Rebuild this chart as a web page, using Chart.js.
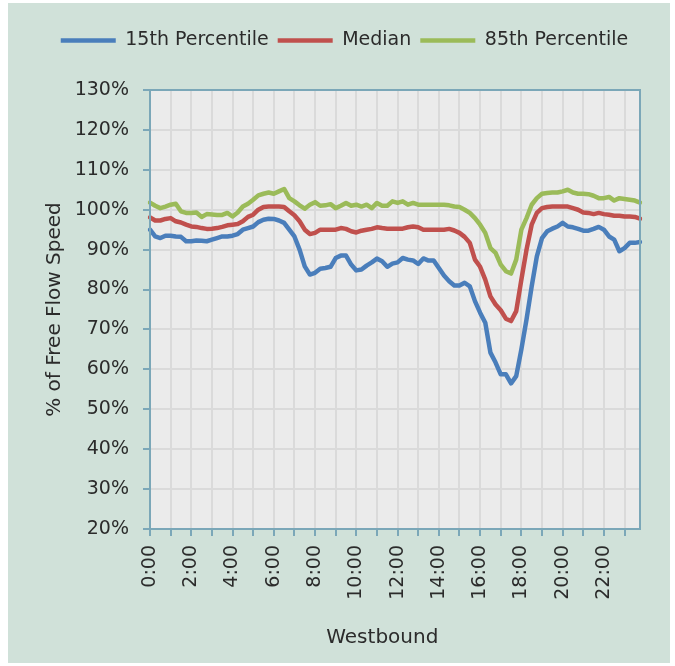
<!DOCTYPE html>
<html><head><meta charset="utf-8">
<script src="https://cdn.jsdelivr.net/npm/chart.js@4"></script>
<style>html,body{margin:0;padding:0;background:#fff;} canvas{display:block;}</style>
</head><body>
<canvas id="c" width="675" height="666"></canvas>
<script>
// 15-minute time categories 0:00 .. 23:45
const times = [];
for (let h = 0; h < 24; h++) { for (const m of ['00','15','30','45']) times.push(h + ':' + m); }
const tickLabels = ['0:00','2:00','4:00','6:00','8:00','10:00','12:00','14:00','16:00','18:00','20:00','22:00'];
const yTicks = [20,30,40,50,60,70,80,90,100,110,120,130];

const p15 = [95,93.3,92.9,93.5,93.5,93.3,93.2,92.1,92.1,92.3,
  92.25,92.1,92.5,92.9,93.3,93.3,93.5,93.9,95,95.4,
  95.8,96.9,97.5,97.75,97.7,97.3,96.7,95,93.3,90,
  85.8,83.75,84.2,85.2,85.4,85.7,87.9,88.5,88.5,86.25,
  84.8,85,86,86.8,87.75,87.1,85.7,86.5,86.8,87.9,
  87.5,87.3,86.4,87.8,87.25,87.3,85.4,83.5,82.1,81,
  81,81.7,80.8,77.1,74.2,71.7,64.2,61.7,58.75,58.75,
  56.5,58.3,65,72.5,80.8,88.3,92.9,94.6,95.25,95.8,
  96.7,95.8,95.6,95.2,94.75,94.75,95.2,95.7,95,93.3,
  92.5,89.6,90.4,91.7,91.7,91.9];
const median = [98.1,97.3,97.3,97.7,97.9,97.1,96.8,96.25,95.8,95.7,
  95.4,95.2,95.25,95.4,95.7,96.1,96.25,96.4,97.1,98.2,
  98.75,100,100.7,100.8,100.8,100.8,100.7,99.6,98.6,97.1,
  95,93.9,94.2,95,95,95,95,95.4,95.2,94.6,
  94.3,94.75,95,95.2,95.6,95.4,95.25,95.25,95.25,95.25,
  95.6,95.8,95.6,95,95,95,95,95,95.2,94.8,
  94.2,93.2,91.7,87.5,85.7,82.5,78.3,76.25,74.8,72.7,
  72.1,74.6,82.5,90,96.25,99.2,100.4,100.7,100.8,100.8,
  100.8,100.8,100.4,100,99.3,99.2,98.9,99.2,98.9,98.75,
  98.5,98.5,98.3,98.3,98.2,97.75];
const p85 = [101.8,101,100.4,100.8,101.25,101.5,99.6,99.2,99.2,99.3,
  98.2,98.9,98.8,98.7,98.7,99.2,98.3,99.3,100.8,101.5,
  102.5,103.6,104,104.3,104,104.6,105.2,102.9,102.1,101.1,
  100.25,101.25,101.9,101,101.1,101.4,100.4,101,101.7,101,
  101.25,100.8,101.25,100.4,101.7,101,101,102.1,101.7,102.1,
  101.25,101.7,101.25,101.25,101.25,101.25,101.25,101.25,101.1,100.8,
  100.7,100,99.2,97.9,96.25,94.2,90.4,89.2,86.25,84.6,
  84,87.5,95,97.9,101.25,102.9,104,104.2,104.3,104.3,
  104.6,105,104.3,104,104,103.9,103.5,102.9,102.9,103.2,
  102.3,102.9,102.7,102.5,102.3,101.8];

const FONT = 'DejaVu Sans';
const TEXT = '#2b2b2b';
const AXIS = '#7ba7b8';
const GRID = '#dadada';

const bgPlugin = {
  id: 'bg',
  beforeDraw(chart) {
    const {ctx, chartArea: a} = chart;
    ctx.save();
    ctx.fillStyle = '#ffffff';
    ctx.fillRect(0, 0, chart.width, chart.height);
    ctx.fillStyle = '#d0e1d9';
    ctx.fillRect(8, 3, 662, 660);
    ctx.fillStyle = '#ebebeb';
    ctx.fillRect(a.left, a.top, a.right - a.left, a.bottom - a.top);
    ctx.restore();
  },
  afterDraw(chart) {
    const {ctx, chartArea: a} = chart;
    ctx.save();
    ctx.strokeStyle = AXIS;
    ctx.lineWidth = 2;
    ctx.strokeRect(a.left, a.top, a.right - a.left, a.bottom - a.top);
    ctx.restore();
  }
};

const ds = (label, data, color) => ({
  label, data, borderColor: color, backgroundColor: color,
  borderWidth: 4.5, pointRadius: 0, pointHoverRadius: 0, pointStyle: 'line',
  tension: 0, borderCapStyle: 'round', borderJoinStyle: 'round', fill: false
});

new Chart(document.getElementById('c'), {
  type: 'line',
  data: {
    labels: times,
    datasets: [
      ds('15th Percentile', p15, '#4a7ebb'),
      ds('Median', median, '#c0504d'),
      ds('85th Percentile', p85, '#9bbb59')
    ]
  },
  plugins: [bgPlugin],
  options: {
    responsive: false,
    devicePixelRatio: 1,
    animation: false,
    events: [],
    layout: { padding: { left: 49, right: 35, top: 22, bottom: 0 } },
    plugins: {
      legend: {
        display: true, position: 'top', weight: 3000,
        labels: {
          usePointStyle: true, pointStyleWidth: 55, boxHeight: 19,
          padding: 9, color: TEXT, font: { family: FONT, size: 19 }
        }
      },
      title: { display: true, text: '', weight: 2000, padding: { top: 0, bottom: 18 }, font: { size: 10 } },
      tooltip: { enabled: false }
    },
    scales: {
      x: {
        type: 'category',
        offset: false,
        afterFit(scale) { scale.height = 137; },
        grid: {
          display: true, drawOnChartArea: true, drawTicks: true, tickLength: 7, lineWidth: 2,
          color: (c) => (c.index % 4 === 0 ? GRID : 'rgba(0,0,0,0)'),
          tickColor: (c) => (c.index % 4 === 0 ? AXIS : 'rgba(0,0,0,0)'),
          tickWidth: 2
        },
        border: { display: true, color: AXIS, width: 2 },
        ticks: {
          autoSkip: false, minRotation: 90, maxRotation: 90, padding: 9,
          color: TEXT, font: { family: FONT, size: 19 },
          callback(v, i) { const l = times[i]; return tickLabels.includes(l) ? l : ''; }
        },
        title: {
          display: true, text: 'Westbound\u00a0\u00a0\u00a0\u00a0', color: TEXT,
          font: { family: FONT, size: 20 }, padding: { top: 0, bottom: 16 }
        }
      },
      y: {
        min: 20, max: 130,
        afterFit(scale) { scale.width = 101; },
        afterBuildTicks(scale) { scale.ticks = yTicks.map(v => ({ value: v })); },
        grid: { color: GRID, lineWidth: 2, tickLength: 7, tickColor: AXIS, tickWidth: 2 },
        border: { display: true, color: AXIS, width: 2 },
        ticks: {
          padding: 14, color: TEXT, font: { family: FONT, size: 19 },
          callback: (v) => v + '%'
        },
        title: {
          display: true, text: '% of Free Flow Speed', color: TEXT,
          font: { family: FONT, size: 20 }, padding: { top: -6, bottom: 0 }
        }
      }
    }
  }
});
</script>
</body></html>
